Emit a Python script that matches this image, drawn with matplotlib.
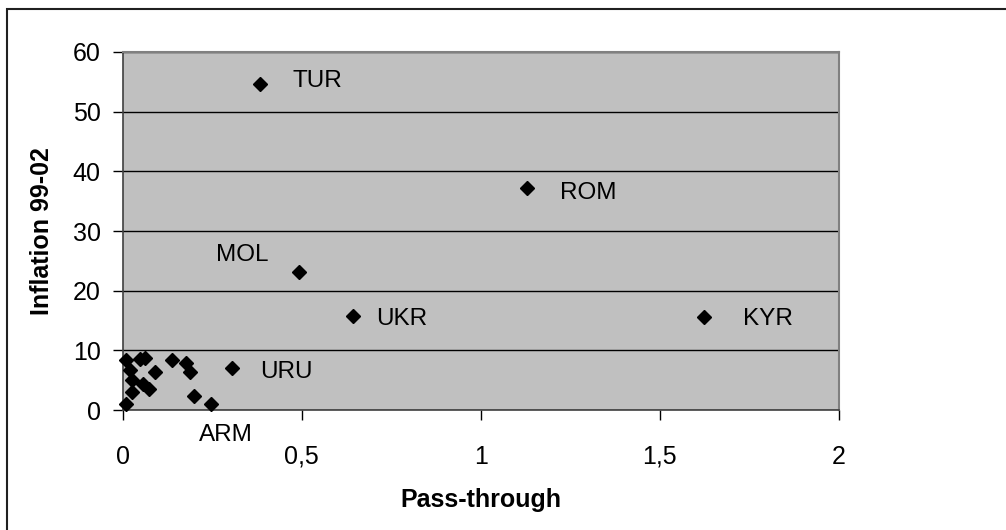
import matplotlib
matplotlib.use("Agg")
import matplotlib.pyplot as plt
from matplotlib.patches import Rectangle
from matplotlib.ticker import FuncFormatter

plt.rcParams['font.family'] = ['Liberation Sans', 'DejaVu Sans']

# labelled countries
labels = ["TUR", "ROM", "MOL", "UKR", "KYR", "URU", "ARM"]
lab_x = [0.382, 1.128, 0.492, 0.644, 1.622, 0.306, 0.247]
lab_y = [54.6, 37.2, 23.1, 15.8, 15.6, 7.0, 1.0]

# unlabelled cluster near the origin
other_x = [0.010, 0.049, 0.061, 0.021, 0.089, 0.138, 0.177, 0.189,
           0.027, 0.057, 0.073, 0.027, 0.010, 0.200]
other_y = [8.3, 8.5, 8.7, 6.7, 6.4, 8.3, 7.8, 6.3,
           5.0, 4.3, 3.5, 3.0, 1.0, 2.4]

xticks = [0, 0.5, 1, 1.5, 2]
yticks = [0, 10, 20, 30, 40, 50, 60]

# text offsets in pixels (dx, dy, ha)
offsets = {
    "TUR": (33, 3, "left"),
    "ROM": (33, -5, "left"),
    "MOL": (-30, 17, "right"),
    "UKR": (23, -3, "left"),
    "KYR": (39, -2, "left"),
    "URU": (28, -4, "left"),
    "ARM": (15, -31, "center"),
}

fig = plt.figure(figsize=(10.06, 5.30), dpi=100)
ax = fig.add_axes([0.122, 0.2264, 0.712, 0.6755])
ax.set_facecolor("#c0c0c0")

ax.plot(other_x + lab_x, other_y + lab_y, linestyle="none", marker="D",
        markersize=7, color="black", clip_on=False, zorder=3)

for name, x, y in zip(labels, lab_x, lab_y):
    dx, dy, ha = offsets[name]
    ax.annotate(name, (x, y), xytext=(dx, dy), textcoords="offset pixels",
                ha=ha, va="center", fontsize=17.5, annotation_clip=False)

ax.set_xlim(0, 2)
ax.set_ylim(0, 60)
ax.set_xticks(xticks)
ax.set_yticks(yticks)
ax.xaxis.set_major_formatter(FuncFormatter(lambda v, p: f"{v:g}".replace(".", ",")))
ax.tick_params(axis="both", labelsize=18, direction="out", length=7, width=1, color="black")
ax.tick_params(axis="x", pad=18)
ax.tick_params(axis="y", pad=9)

ax.yaxis.grid(True, color="black", linewidth=1)
ax.set_axisbelow(True)

for s in ["top", "right"]:
    ax.spines[s].set_color("#808080")
    ax.spines[s].set_linewidth(1.5)
ax.spines["left"].set_color("#404040")
ax.spines["bottom"].set_color("#404040")
ax.spines["left"].set_linewidth(1.2)
ax.spines["bottom"].set_linewidth(1.2)

ax.set_xlabel("Pass-through", fontsize=18, fontweight="bold", labelpad=14)
ax.set_ylabel("Inflation 99-02", fontsize=18, fontweight="bold", labelpad=13)

# outer chart frame (only left and top visible in the original crop)
fig.patches.append(Rectangle((7 / 1006, -0.1), 1.2, (530 - 8.5) / 530 + 0.1,
                             transform=fig.transFigure, fill=False,
                             edgecolor="#202020", linewidth=1.5))

fig.savefig("out.png", dpi=100)
